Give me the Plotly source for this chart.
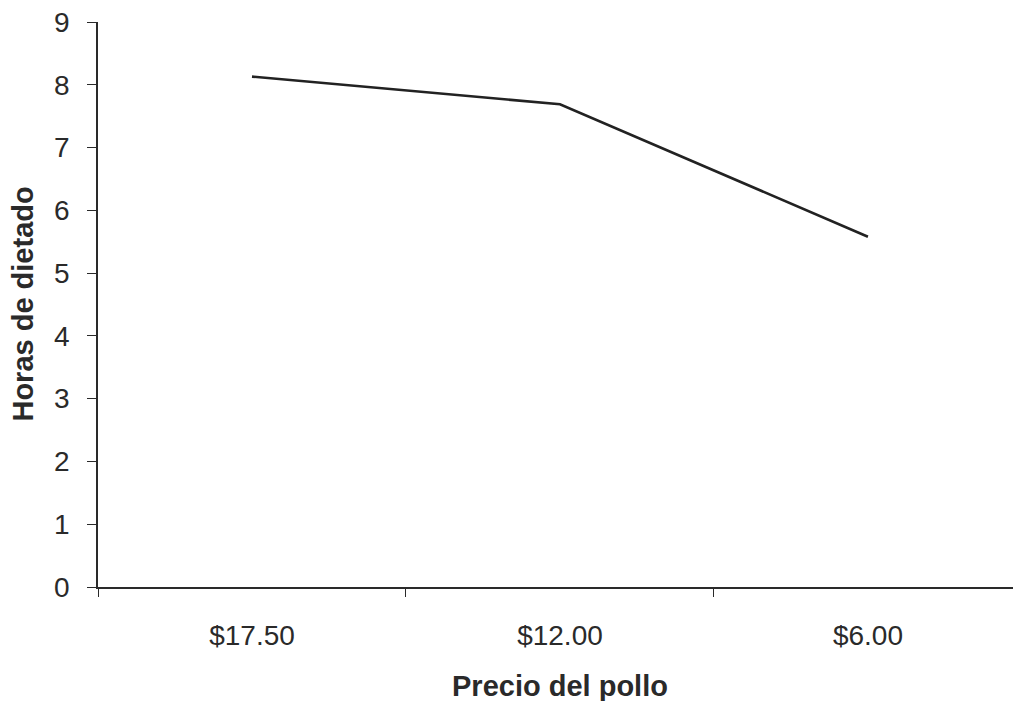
import plotly.graph_objects as go

# Precio del pollo vs. horas de dietado
precios = ["$17.50", "$12.00", "$6.00"]
horas = [8.13, 7.69, 5.58]
y_ticks = list(range(0, 10))

FONT = "Liberation Sans, Arial, sans-serif"
INK = "#2a2a2a"

fig = go.Figure(
    go.Scatter(
        x=precios,
        y=horas,
        mode="lines",
        line=dict(color="#222222", width=2.6),
        showlegend=False,
        hoverinfo="skip",
    )
)

fig.update_layout(
    width=1013,
    height=701,
    margin=dict(l=98, r=0, t=22, b=114),
    paper_bgcolor="white",
    plot_bgcolor="white",
    font=dict(family=FONT, color=INK),
    xaxis=dict(
        type="category",
        range=[-0.5, 2.471],
        tickson="boundaries",
        ticks="outside",
        ticklen=8,
        tickwidth=1.3,
        tickcolor=INK,
        showline=True,
        linecolor=INK,
        linewidth=1.5,
        showgrid=False,
        zeroline=False,
        tickfont=dict(size=28, color=INK),
        ticklabelstandoff=23,
    ),
    yaxis=dict(
        range=[0, 9],
        tickvals=y_ticks,
        ticks="outside",
        ticklen=9,
        tickwidth=1.3,
        tickcolor=INK,
        showline=True,
        linecolor=INK,
        linewidth=1.5,
        showgrid=False,
        zeroline=False,
        tickfont=dict(size=28, color=INK),
        ticklabelstandoff=12,
    ),
    annotations=[
        dict(
            text="<b>Precio del pollo</b>",
            xref="x", yref="paper",
            x=1, y=-0.175,
            xanchor="center", yanchor="middle",
            showarrow=False,
            font=dict(size=29, color=INK, family=FONT),
        ),
        dict(
            text="<b>Horas de dietado</b>",
            xref="paper", yref="paper",
            x=-0.083, y=0.5,
            xanchor="center", yanchor="middle",
            textangle=-90,
            showarrow=False,
            font=dict(size=29, color=INK, family=FONT),
        ),
    ],
)

fig.write_html("out.html")
